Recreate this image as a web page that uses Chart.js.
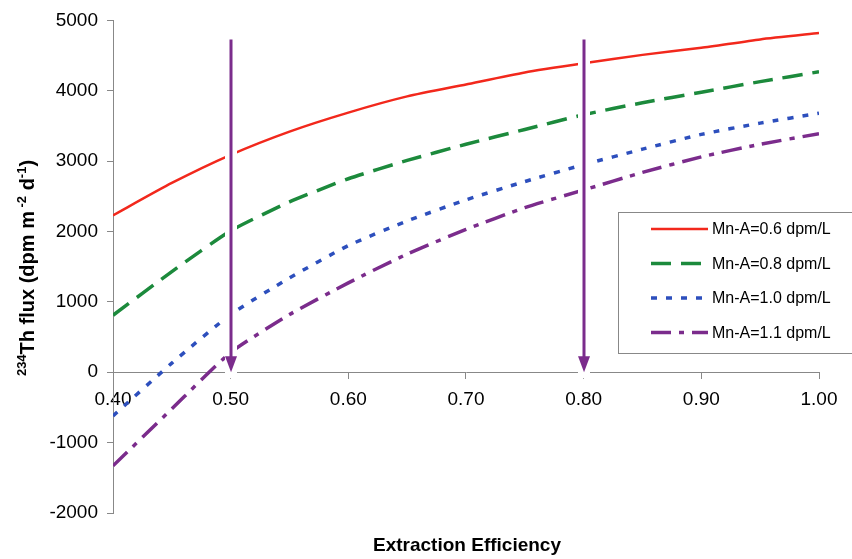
<!DOCTYPE html>
<html>
<head>
<meta charset="utf-8">
<script src="https://cdn.jsdelivr.net/npm/chart.js@4"></script>
<style>
  html, body { margin: 0; padding: 0; background: #fff; }
  #wrap { width: 852px; height: 559px; position: relative; }
</style>
</head>
<body>
<div id="wrap"><canvas id="myChart"></canvas></div>
<script>
// data
const efficiency = [0.40, 0.45, 0.50, 0.55, 0.60, 0.65, 0.70, 0.75, 0.80, 0.85, 0.90, 0.95, 1.00]
const flux06 = [2230, 2690, 3090, 3420, 3690, 3920, 4090, 4260, 4390, 4510, 4610, 4730, 4820]
const flux08 = [810, 1430, 2010, 2420, 2750, 3010, 3240, 3450, 3660, 3830, 3980, 4130, 4270]
const flux10 = [-620, 130, 820, 1340, 1800, 2150, 2450, 2710, 2950, 3170, 3380, 3540, 3680]
const flux11 = [-1330, -520, 280, 820, 1270, 1680, 2030, 2340, 2590, 2840, 3060, 3240, 3390]
const seriesNames = ['Mn-A=0.6 dpm/L', 'Mn-A=0.8 dpm/L', 'Mn-A=1.0 dpm/L', 'Mn-A=1.1 dpm/L']
const arrowX = [0.50, 0.80]   // marked extraction efficiencies
const arrowTop = 4730         // arrows start here (flux units)
const yTicks = [-2000, -1000, 0, 1000, 2000, 3000, 4000, 5000]
const xTicks = [0.40, 0.50, 0.60, 0.70, 0.80, 0.90, 1.00]

const ctx = document.getElementById('myChart')
const FONT = '"Liberation Sans", Arial, sans-serif'
const pts = arr => efficiency.map((x, i) => ({x: x, y: arr[i]}))

const mkSet = (label, arr, color, dash, w) => ({
  label: label, data: pts(arr), borderColor: color, backgroundColor: color,
  borderDash: dash, borderWidth: w, pointRadius: 0, tension: 0.2, fill: false
})

// arrows at the two marked efficiencies (white halo cuts the lines)
const arrows = {
  id: 'arrows',
  afterDatasetsDraw(chart) {
    const c = chart.ctx, xs = chart.scales.x, ys = chart.scales.y
    const y0 = ys.getPixelForValue(0), yt = ys.getPixelForValue(arrowTop)
    c.save()
    arrowX.forEach(v => {
      const px = Math.round(xs.getPixelForValue(v))
      c.strokeStyle = '#fff'; c.lineWidth = 12
      c.beginPath(); c.moveTo(px, yt + 4); c.lineTo(px, y0 + 6); c.stroke()
      c.strokeStyle = '#7b2c8c'; c.lineWidth = 3
      c.beginPath(); c.moveTo(px, yt); c.lineTo(px, y0 - 12); c.stroke()
      c.fillStyle = '#7b2c8c'
      c.beginPath(); c.moveTo(px - 6, y0 - 16); c.lineTo(px + 6, y0 - 16); c.lineTo(px, y0); c.closePath(); c.fill()
    })
    c.restore()
  }
}

// axis titles and boxed legend
const extras = {
  id: 'extras',
  afterDraw(chart) {
    const c = chart.ctx
    c.save()
    c.fillStyle = '#000'
    c.font = 'bold 19px ' + FONT
    c.textAlign = 'center'; c.textBaseline = 'middle'
    c.fillText('Extraction Efficiency', 467, 546)

    // y title with superscripts, rotated
    c.translate(34, 268); c.rotate(-Math.PI / 2)
    const parts = [['234', 1], ['Th flux (dpm m', 0], [' -2', 1], [' d', 0], ['-1', 1], [')', 0]]
    const big = 'bold 20px ', small = 'bold 13px '
    let total = 0
    parts.forEach(p => { c.font = (p[1] ? small : big) + FONT; total += c.measureText(p[0]).width })
    let x = -total / 2
    c.textAlign = 'left'; c.textBaseline = 'alphabetic'
    parts.forEach(p => {
      c.font = (p[1] ? small : big) + FONT
      c.fillText(p[0], x, p[1] ? -8 : 0)
      x += c.measureText(p[0]).width
    })
    c.restore()

    // legend
    c.save()
    c.strokeStyle = '#888'; c.lineWidth = 1
    c.strokeRect(618.5, 212.5, 240, 141)
    c.font = '16px ' + FONT; c.textBaseline = 'middle'; c.textAlign = 'left'; c.fillStyle = '#000'
    chart.data.datasets.forEach((ds, i) => {
      const y = 229 + i * 34.5
      c.strokeStyle = ds.borderColor; c.lineWidth = ds.borderWidth
      c.setLineDash(ds.borderDash)
      c.beginPath(); c.moveTo(651, y); c.lineTo(708, y); c.stroke()
      c.setLineDash([])
      c.fillText(ds.label, 712, y + 1)
    })
    c.restore()
  }
}

const grafico = new Chart(ctx, {
  type: 'line',
  data: {
    datasets: [
      mkSet(seriesNames[0], flux06, '#f2281c', [], 2.5),
      mkSet(seriesNames[1], flux08, '#1c8a3c', [20, 10], 3.5),
      mkSet(seriesNames[2], flux10, '#2d4fbd', [6, 9], 3.5),
      mkSet(seriesNames[3], flux11, '#7b2c8c', [20, 8, 5, 8], 3.5)
    ]
  },
  options: {
    responsive: true, maintainAspectRatio: false, animation: false,
    layout: { padding: { left: 0, right: 33, top: 19, bottom: 46 } },
    plugins: { legend: { display: false }, tooltip: { enabled: false } },
    scales: {
      x: {
        type: 'linear', min: 0.4, max: 1.0,
        position: { y: 0 },
        afterBuildTicks: s => { s.ticks = xTicks.map(v => ({value: v})) },
        ticks: { color: '#000', font: { size: 19, family: FONT }, padding: 10,
                 maxRotation: 0, callback: v => Number(v).toFixed(2) },
        grid: { display: true, drawOnChartArea: false, drawTicks: true, tickLength: 6, color: '#888' },
        border: { color: '#888', width: 1 }
      },
      y: {
        min: -2000, max: 5000,
        afterBuildTicks: s => { s.ticks = yTicks.map(v => ({value: v})) },
        afterFit: s => { s.width = 113 },
        ticks: { color: '#000', font: { size: 19, family: FONT }, padding: 9, callback: v => String(v) },
        grid: { display: true, drawOnChartArea: false, drawTicks: true, tickLength: 6, color: '#888' },
        border: { color: '#888', width: 1 }
      }
    }
  },
  plugins: [arrows, extras]
})
</script>
</body>
</html>
